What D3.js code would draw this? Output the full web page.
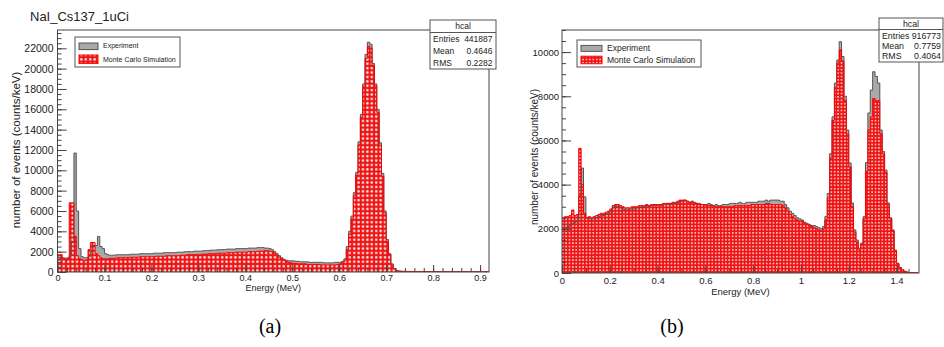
<!DOCTYPE html>
<html>
<head>
<meta charset="utf-8">
<script src="https://cdn.jsdelivr.net/npm/d3@7"></script>
<style>
  body { margin: 0; background: #fff; }
  svg { display: block; font-family: "Liberation Sans", Arial, sans-serif; }
</style>
</head>
<body>
<div id="chart"></div>
<script>
// ---- panel (a): NaI Cs137, bins of 0.005 MeV starting at 0 ----
const aBinWidth = 0.005;
const aExp = [
  1200, 1400, 1400, 1350, 1400, 1600, 3000, 11700, 6000, 2300,
  1500, 1400, 1400, 1500, 2000, 2600, 2600, 3500, 2500, 2300,
  1800, 1700, 1650, 1650, 1650, 1700, 1700, 1700, 1700, 1700,
  1700, 1750, 1750, 1750, 1750, 1800, 1800, 1800, 1800, 1800,
  1800, 1850, 1850, 1850, 1850, 1900, 1900, 1900, 1900, 1900,
  1900, 1950, 1950, 1950, 2000, 2000, 2000, 2000, 2050, 2050,
  2050, 2050, 2100, 2100, 2100, 2150, 2150, 2150, 2200, 2200,
  2200, 2200, 2250, 2250, 2250, 2250, 2300, 2300, 2300, 2300,
  2300, 2350, 2350, 2350, 2350, 2400, 2400, 2400, 2350, 2350,
  2300, 2200, 2000, 1800, 1600, 1400, 1250, 1150, 1100, 1100,
  1100, 1050, 1050, 1000, 1000, 1000, 1000, 950, 950, 950,
  950, 950, 950, 900, 900, 900, 900, 900, 950, 950,
  950, 1050, 1300, 2500, 4000, 5500, 7800, 9800, 12800, 15500,
  18500, 21400, 22600, 22400, 20500, 18500, 16000, 12700, 9700, 6000,
  3200, 1800, 800, 350, 150, 100, 80, 70, 60, 60,
  50, 50, 50, 50, 40, 40, 40, 40, 40, 40,
  40, 40, 30, 30, 30, 30, 30, 30, 30, 30,
  30, 30, 30, 30, 30, 30, 20, 20, 20, 20,
  20, 20, 20, 20
];
const aSim = [
  1700, 1700, 1300, 1250, 1300, 6800, 6800, 3500, 1600, 1300,
  1200, 1100, 1200, 2200, 2900, 2900, 1800, 1600, 1400, 1300,
  1300, 1300, 1350, 1350, 1350, 1400, 1400, 1400, 1400, 1400,
  1400, 1450, 1450, 1450, 1450, 1500, 1500, 1500, 1500, 1500,
  1500, 1500, 1550, 1550, 1550, 1550, 1600, 1600, 1600, 1600,
  1600, 1600, 1650, 1650, 1650, 1700, 1700, 1700, 1700, 1700,
  1700, 1750, 1750, 1750, 1800, 1800, 1800, 1800, 1850, 1850,
  1850, 1850, 1900, 1900, 1900, 1900, 1950, 1950, 1950, 1950,
  1950, 2000, 2000, 2000, 2000, 2050, 2050, 2050, 2100, 2100,
  2050, 2000, 1850, 1650, 1450, 1300, 1150, 1050, 950, 900,
  850, 850, 800, 800, 800, 800, 750, 750, 750, 750,
  750, 750, 700, 700, 700, 700, 700, 700, 700, 750,
  800, 900, 1100, 2200, 3700, 5200, 7500, 9500, 12500, 15200,
  18200, 21000, 22200, 22000, 20300, 18300, 15700, 12400, 9400, 5800,
  3000, 1700, 700, 300, 120, 80, 60, 50, 50, 40,
  40, 40, 40, 40, 30, 30, 30, 30, 30, 30,
  30, 30, 20, 20, 20, 20, 20, 20, 20, 20,
  20, 20, 20, 20, 20, 20, 20, 20, 20, 20,
  20, 20, 20, 20
];
const aXTicks = [0, 0.1, 0.2, 0.3, 0.4, 0.5, 0.6, 0.7, 0.8, 0.9];
const aYTicks = [0, 2000, 4000, 6000, 8000, 10000, 12000, 14000, 16000, 18000, 20000, 22000];
const aStats = [["Entries", "441887"], ["Mean", "0.4646"], ["RMS", "0.2282"]];

// ---- panel (b): bins of 0.01 MeV starting at 0 ----
const bBinWidth = 0.01;
const bExp = [
  1950, 2050, 2100, 2150, 2250, 2300, 2350, 3500, 4750, 3450,
  2500, 2450, 2450, 2500, 2500, 2550, 2600, 2600, 2650, 2700,
  2800, 2950, 3050, 3000, 2950, 2900, 2850, 2850, 2900, 2900,
  2900, 2950, 2950, 3000, 3000, 3050, 3000, 3050, 3050, 3100,
  3050, 3050, 3100, 3100, 3150, 3100, 3150, 3150, 3200, 3250,
  3250, 3300, 3250, 3200, 3250, 3200, 3150, 3150, 3100, 3100,
  3100, 3150, 3100, 3050, 3100, 3050, 3050, 3100, 3100, 3100,
  3150, 3150, 3150, 3150, 3200, 3150, 3150, 3200, 3200, 3200,
  3200, 3200, 3250, 3250, 3250, 3300, 3250, 3300, 3300, 3300,
  3300, 3250, 3250, 3100, 2950, 2800, 2700, 2600, 2500, 2450,
  2400, 2300, 2250, 2200, 2150, 2150, 2100, 2050, 2000, 2100,
  2550, 3600, 5400, 7070, 8600, 9640, 10470, 9800, 8000, 6470,
  4980, 3170, 1950, 1490, 1120, 1350, 2550, 5000, 7240, 8280,
  9110, 8900, 8600, 6470, 5500, 4660, 3170, 2500, 1950, 1040,
  440, 250, 150, 80, 40, 20, 20, 10, 10
];
const bSim = [
  2500, 2550, 2550, 2600, 2850, 2600, 2650, 5640, 4000, 2700,
  2500, 2550, 2500, 2550, 2600, 2650, 2700, 2700, 2750, 2800,
  2900, 3050, 3100, 3100, 3050, 3000, 2950, 2950, 2950, 3000,
  3000, 3000, 3050, 3050, 3050, 3100, 3050, 3100, 3100, 3100,
  3100, 3100, 3150, 3150, 3150, 3150, 3200, 3200, 3250, 3300,
  3300, 3300, 3250, 3200, 3200, 3150, 3150, 3100, 3100, 3100,
  3050, 3050, 3050, 3000, 3000, 3000, 3000, 3000, 3000, 3000,
  3000, 3000, 3050, 3050, 3050, 3050, 3050, 3050, 3050, 3100,
  3100, 3100, 3100, 3100, 3100, 3150, 3150, 3100, 3100, 3100,
  3100, 3100, 3050, 2950, 2800, 2650, 2550, 2450, 2400, 2350,
  2350, 2250, 2200, 2150, 2100, 2050, 2000, 1950, 1900, 2000,
  2400, 3400, 5200, 6900, 8400, 9500, 10100, 9600, 7800, 6300,
  4800, 3000, 1850, 1400, 1050, 1300, 2450, 4600, 6470, 7070,
  7900, 7800, 7800, 6300, 5400, 4550, 3100, 2450, 1900, 1000,
  420, 240, 140, 70, 40, 20, 20, 10, 10
];
const bXTicks = [0, 0.2, 0.4, 0.6, 0.8, 1, 1.2, 1.4];
const bYTicks = [0, 2000, 4000, 6000, 8000, 10000];
const bStats = [["Entries", "916773"], ["Mean", "0.7759"], ["RMS", "0.4064"]];

const legendLabels = ["Experiment", "Monte Carlo Simulation"];

const svg = d3.select("#chart").append("svg")
  .attr("width", 944)
  .attr("height", 347);

const defs = svg.append("defs");

// red fill with light holes, like the ROOT hatch pattern
function addPattern(id, size, r) {
  const p = defs.append("pattern")
    .attr("id", id)
    .attr("patternUnits", "userSpaceOnUse")
    .attr("width", size)
    .attr("height", size);
  p.append("rect").attr("width", size).attr("height", size).attr("fill", "#f01414");
  p.append("circle").attr("cx", size / 2).attr("cy", size / 2).attr("r", r).attr("fill", "#f2e2e2");
}
addPattern("patA", 4.4, 1.3);
addPattern("patB", 3.4, 0.9);

function drawPanel(o) {
  const g = svg.append("g");

  const x = d3.scaleLinear().domain(o.xDomain).range([o.left, o.right]);
  const y = d3.scaleLinear().domain(o.yDomain).range([o.bottom, o.top]);

  defs.append("clipPath").attr("id", o.id + "clip")
    .append("rect")
    .attr("x", o.left).attr("y", o.top)
    .attr("width", o.right - o.left).attr("height", o.bottom - o.top);

  const steps = (vals) =>
    vals.map((v, i) => ({ e: i * o.bin, v }))
      .concat([{ e: vals.length * o.bin, v: vals[vals.length - 1] }]);

  const area = d3.area().curve(d3.curveStepAfter)
    .x((d) => x(d.e)).y0(y(0)).y1((d) => y(d.v));
  const line = d3.line().curve(d3.curveStepAfter)
    .x((d) => x(d.e)).y((d) => y(d.v));

  const hist = g.append("g").attr("clip-path", `url(#${o.id}clip)`);
  hist.append("path").datum(steps(o.exp)).attr("d", area).attr("fill", "#a9a9a9");
  hist.append("path").datum(steps(o.sim)).attr("d", area).attr("fill", `url(#${o.pattern})`);
  hist.append("path").datum(steps(o.exp)).attr("d", line)
    .attr("fill", "none").attr("stroke", "#555").attr("stroke-width", 1);
  hist.append("path").datum(steps(o.sim)).attr("d", line)
    .attr("fill", "none").attr("stroke", "#f00").attr("stroke-width", 1);

  // axes with ticks pointing into the frame
  const styleAxis = (sel, size) => {
    sel.select(".domain").remove();
    sel.attr("font-family", "Liberation Sans, Arial, sans-serif").attr("font-size", size);
    sel.selectAll("line").attr("stroke", "#444");
    sel.selectAll("text").attr("fill", "#222");
  };

  const xMinor = d3.range(0, o.xDomain[1] + 1e-9, o.xMinorStep);
  const yMinor = d3.range(0, o.yDomain[1] + 1e-9, o.yMinorStep);

  g.append("g").attr("transform", `translate(0,${o.bottom})`)
    .call(d3.axisBottom(x).tickValues(xMinor).tickSizeInner(-o.minorLen).tickSizeOuter(0).tickFormat(""))
    .call((s) => styleAxis(s, 0));
  g.append("g").attr("transform", `translate(${o.left},0)`)
    .call(d3.axisLeft(y).tickValues(yMinor).tickSizeInner(-o.minorLen).tickSizeOuter(0).tickFormat(""))
    .call((s) => styleAxis(s, 0));

  g.append("g").attr("transform", `translate(0,${o.bottom})`)
    .call(d3.axisBottom(x).tickValues(o.xTicks).tickSizeInner(-o.majorLen).tickSizeOuter(0)
      .tickPadding(o.xPad).tickFormat(d3.format("~g")))
    .call((s) => styleAxis(s, o.xFont));
  g.append("g").attr("transform", `translate(${o.left},0)`)
    .call(d3.axisLeft(y).tickValues(o.yTicks).tickSizeInner(-o.majorLen * 1.3).tickSizeOuter(0)
      .tickPadding(o.yPad).tickFormat(d3.format("d")))
    .call((s) => styleAxis(s, o.yFont));

  // frame
  g.append("rect")
    .attr("x", o.left).attr("y", o.top)
    .attr("width", o.right - o.left).attr("height", o.bottom - o.top)
    .attr("fill", "none").attr("stroke", "#444").attr("stroke-width", 1);

  // axis titles
  g.append("text")
    .attr("x", (o.left + o.right) / 2).attr("y", o.xTitleY)
    .attr("text-anchor", "middle").attr("font-size", o.xTitleFont).attr("fill", "#222")
    .text("Energy (MeV)");
  g.append("text")
    .attr("transform", `translate(${o.yTitleX},${o.yTitleY}) rotate(-90)`)
    .attr("text-anchor", "middle").attr("font-size", o.yTitleFont).attr("fill", "#222")
    .text("number of events (counts/keV)");

  // legend
  const L = o.legend;
  const lg = g.append("g");
  lg.append("rect").attr("x", L.x).attr("y", L.y).attr("width", L.w).attr("height", L.h)
    .attr("fill", "#fff").attr("stroke", "#555").attr("stroke-width", 1);
  lg.append("rect").attr("x", L.x + 4).attr("y", L.y + L.h * 0.2).attr("width", L.sw).attr("height", L.h * 0.22)
    .attr("fill", "#a9a9a9").attr("stroke", "#555");
  lg.append("rect").attr("x", L.x + 4).attr("y", L.y + L.h * 0.6).attr("width", L.sw).attr("height", L.h * 0.28)
    .attr("fill", `url(#${o.pattern})`).attr("stroke", "#f00");
  legendLabels.forEach((t, i) => {
    lg.append("text")
      .attr("x", L.x + L.sw + 9).attr("y", L.y + L.h * (i === 0 ? 0.3 : 0.74))
      .attr("dy", "0.35em").attr("font-size", L.font).attr("fill", "#222")
      .text(t);
  });

  // stats box
  const S = o.stats;
  const sg = g.append("g");
  sg.append("rect").attr("x", S.x).attr("y", S.y).attr("width", S.w).attr("height", S.h)
    .attr("fill", "#fff").attr("stroke", "#555").attr("stroke-width", 1);
  sg.append("line").attr("x1", S.x).attr("x2", S.x + S.w).attr("y1", S.sep).attr("y2", S.sep)
    .attr("stroke", "#555");
  sg.append("text").attr("x", S.x + S.w / 2).attr("y", S.titleY).attr("dy", "0.35em")
    .attr("text-anchor", "middle").attr("font-size", S.font).attr("fill", "#222").text("hcal");
  o.statRows.forEach((r, i) => {
    sg.append("text").attr("x", S.x + 3).attr("y", S.rows[i]).attr("dy", "0.35em")
      .attr("font-size", S.font).attr("fill", "#222").text(r[0]);
    sg.append("text").attr("x", S.valRight).attr("y", S.rows[i]).attr("dy", "0.35em")
      .attr("text-anchor", "end").attr("font-size", S.font).attr("fill", "#222").text(r[1]);
  });
}

drawPanel({
  id: "a", pattern: "patA",
  left: 57.5, right: 489, top: 30, bottom: 272,
  xDomain: [0, 0.919], yDomain: [0, 23800],
  bin: aBinWidth, exp: aExp, sim: aSim,
  xTicks: aXTicks, yTicks: aYTicks, xMinorStep: 0.02, yMinorStep: 500,
  majorLen: 7, minorLen: 4, xPad: 3, yPad: 4, xFont: 9, yFont: 10.5,
  xTitleY: 291, xTitleFont: 9, yTitleX: 20, yTitleY: 150, yTitleFont: 11.5,
  legend: { x: 75, y: 37, w: 105, h: 30, sw: 19, font: 7 },
  stats: { x: 430, y: 20, w: 66, h: 49, sep: 32.5, titleY: 26, rows: [39.5, 51.5, 63], valRight: 492.5, font: 8.5 },
  statRows: aStats
});

drawPanel({
  id: "b", pattern: "patB",
  left: 562, right: 919, top: 30, bottom: 273,
  xDomain: [0, 1.494], yDomain: [0, 11000],
  bin: bBinWidth, exp: bExp, sim: bSim,
  xTicks: bXTicks, yTicks: bYTicks, xMinorStep: 0.05, yMinorStep: 500,
  majorLen: 7, minorLen: 4, xPad: 4, yPad: 3, xFont: 9.5, yFont: 9.5,
  xTitleY: 295, xTitleFont: 9.5, yTitleX: 538, yTitleY: 157, yTitleFont: 10,
  legend: { x: 577, y: 40, w: 124, h: 27, sw: 21, font: 8.5 },
  stats: { x: 879, y: 18, w: 64, h: 44, sep: 29.5, titleY: 24, rows: [35.5, 45.5, 56], valRight: 941, font: 8.8 },
  statRows: bStats
});

// title of panel (a)
svg.append("text")
  .attr("x", 30).attr("y", 21)
  .attr("font-size", 13).attr("fill", "#222")
  .text("NaI_Cs137_1uCi");

// sub-figure captions
svg.append("text")
  .attr("x", 270).attr("y", 333)
  .attr("text-anchor", "middle")
  .attr("font-family", "Liberation Serif, Times New Roman, serif")
  .attr("font-size", 20).attr("fill", "#000")
  .text("(a)");
svg.append("text")
  .attr("x", 672).attr("y", 333)
  .attr("text-anchor", "middle")
  .attr("font-family", "Liberation Serif, Times New Roman, serif")
  .attr("font-size", 20).attr("fill", "#000")
  .text("(b)");
</script>
</body>
</html>
